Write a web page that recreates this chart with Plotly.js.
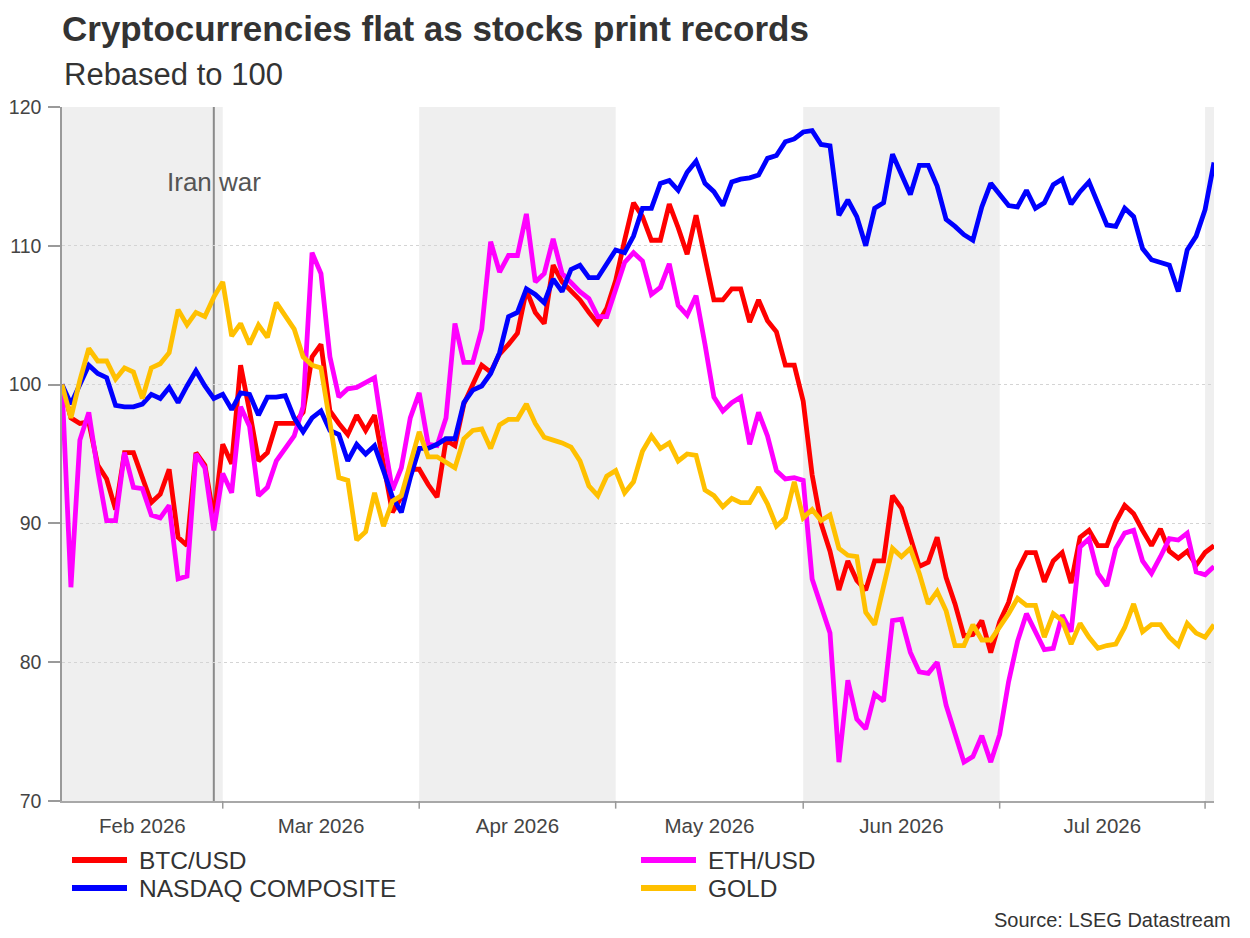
<!DOCTYPE html>
<html>
<head>
<meta charset="utf-8">
<script src="https://cdn.plot.ly/plotly-3.0.1.min.js"></script>
<style>
  html, body { margin: 0; padding: 0; background: #ffffff; }
  #chart { width: 1250px; height: 938px; }
</style>
</head>
<body>
<div id="chart"></div>
<script>
// ---------------- DATA (rebased to 100, business days from 4 Feb 2026) ----------------
const startDate = '2026-02-04';

const btcUsd = [
  100.0, 97.6, 97.2, 97.3, 94.2, 93.2, 91.0, 95.1, 95.1, 93.3,
  91.5, 92.1, 93.9, 89.0, 88.4, 95.1, 94.2, 90.4, 95.7, 94.3,
  101.4, 98.1, 94.5, 95.1, 97.2, 97.2, 97.2, 98.0, 102.0, 102.9,
  98.1, 97.2, 96.4, 97.8, 96.7, 97.8, 94.5, 90.8, 91.9, 93.9,
  93.9, 92.8, 91.9, 96.0, 95.6, 98.6, 100.0, 101.4, 100.9, 102.2,
  102.9, 103.7, 106.8, 105.2, 104.4, 108.6, 107.4, 106.8, 106.1, 105.2,
  104.4, 105.5, 107.5, 110.4, 113.1, 112.1, 110.4, 110.4, 113.0, 111.3,
  109.4, 112.2, 109.2, 106.1, 106.1, 106.9, 106.9, 104.5, 106.1, 104.6,
  103.8, 101.4, 101.4, 98.8, 93.5, 90.0, 88.0, 85.2, 87.3, 85.9,
  85.2, 87.3, 87.3, 92.0, 91.1, 89.1, 86.9, 87.2, 89.0, 86.1,
  84.2, 81.9, 82.0, 83.0, 80.7, 82.9, 84.3, 86.6, 87.9, 87.9,
  85.8, 87.3, 87.9, 85.7, 89.0, 89.5, 88.4, 88.4, 90.1, 91.3,
  90.7, 89.5, 88.4, 89.6, 88.0, 87.5, 88.0, 87.0, 87.9, 88.4
];

const ethUsd = [
  100.0, 85.4, 96.0, 98.0, 93.8, 90.2, 90.2, 95.1, 92.6, 92.5,
  90.6, 90.4, 91.3, 86.0, 86.2, 95.0, 94.0, 89.5, 93.6, 92.2,
  98.4, 97.0, 92.0, 92.6, 94.5, 95.4, 96.3, 98.4, 109.5, 108.0,
  102.0, 99.1, 99.7, 99.8, 100.2, 100.5, 96.2, 92.4, 94.0, 97.6,
  99.4, 95.7, 95.6, 97.6, 104.4, 101.6, 101.6, 104.0, 110.3, 108.1,
  109.3, 109.3, 112.3, 107.4, 108.0, 110.5, 108.0, 107.3, 106.7, 106.2,
  104.9, 104.9, 106.9, 108.8, 109.5, 108.9, 106.5, 107.0, 108.7, 105.7,
  105.0, 106.4, 102.9, 99.1, 98.1, 98.7, 99.1, 95.7, 98.0, 96.3,
  93.8, 93.2, 93.3, 93.1, 86.0, 84.0, 82.1, 72.8, 78.7, 75.9,
  75.2, 77.7, 77.2, 83.0, 83.1, 80.7, 79.3, 79.2, 80.0, 76.9,
  74.8, 72.8, 73.2, 74.7, 72.8, 74.8, 78.6, 81.5, 83.5, 82.2,
  80.9, 81.0, 83.4, 82.2, 88.3, 88.9, 86.4, 85.5, 88.2, 89.3,
  89.5, 87.3, 86.4, 87.6, 88.9, 88.8, 89.3, 86.5, 86.3, 86.9
];

const nasdaqComposite = [
  100.0, 98.6, 100.0, 101.4, 100.8, 100.5, 98.5, 98.4, 98.4, 98.6,
  99.3, 99.0, 99.8, 98.7, 99.9, 101.0, 99.9, 99.0, 99.3, 98.2,
  99.4, 99.3, 97.8, 99.1, 99.1, 99.2, 97.6, 96.6, 97.6, 98.1,
  96.7, 96.4, 94.5, 95.7, 95.0, 95.6, 93.8, 91.9, 90.8, 93.3,
  95.4, 95.4, 95.7, 96.1, 96.1, 98.7, 99.6, 99.9, 100.8, 102.3,
  104.9, 105.2, 106.9, 106.5, 105.9, 107.6, 106.7, 108.3, 108.6, 107.7,
  107.7, 108.7, 109.7, 109.5, 110.7, 112.7, 112.7, 114.5, 114.7, 114.0,
  115.3, 116.1, 114.5, 113.9, 112.9, 114.6, 114.8, 114.9, 115.1, 116.3,
  116.5, 117.5, 117.7, 118.2, 118.3, 117.3, 117.2, 112.2, 113.3, 112.1,
  110.0, 112.7, 113.1, 116.6, 115.2, 113.7, 115.8, 115.8, 114.3, 111.9,
  111.4, 110.8, 110.4, 112.8, 114.5, 113.7, 112.9, 112.8, 114.0, 112.7,
  113.1, 114.4, 114.8, 113.0, 113.9, 114.6, 113.1, 111.5, 111.4, 112.7,
  112.1, 109.8, 109.0, 108.8, 108.6, 106.7, 109.7, 110.7, 112.6, 116.0
];

const goldSeries = [
  100.0, 97.6, 100.3, 102.6, 101.7, 101.7, 100.4, 101.2, 100.9, 99.0,
  101.2, 101.5, 102.3, 105.4, 104.3, 105.2, 104.9, 106.3, 107.4, 103.5,
  104.4, 102.9, 104.3, 103.4, 105.9, 105.0, 104.0, 102.0, 101.4, 101.2,
  97.0, 93.3, 93.1, 88.8, 89.4, 92.2, 89.8, 91.6, 92.0, 94.3,
  96.6, 94.8, 94.8, 94.4, 94.0, 96.1, 96.7, 96.8, 95.4, 97.1,
  97.5, 97.5, 98.6, 97.2, 96.2, 96.0, 95.8, 95.5, 94.5, 92.7,
  92.0, 93.4, 93.8, 92.2, 93.0, 95.2, 96.3, 95.4, 95.8, 94.5,
  95.0, 94.9, 92.4, 92.0, 91.2, 91.8, 91.5, 91.5, 92.6, 91.4,
  89.8, 90.4, 93.0, 90.4, 91.0, 90.2, 90.6, 88.2, 87.7, 87.6,
  83.6, 82.7, 85.4, 88.2, 87.6, 88.2, 86.4, 84.2, 85.1, 83.7,
  81.2, 81.2, 82.7, 81.6, 81.6, 82.5, 83.5, 84.6, 84.1, 84.1,
  81.8, 83.5, 83.0, 81.3, 82.8, 81.8, 81.0, 81.2, 81.3, 82.5,
  84.2, 82.2, 82.7, 82.7, 81.8, 81.2, 82.8, 82.1, 81.8, 82.7
];

const seriesNames  = ['BTC/USD', 'ETH/USD', 'NASDAQ COMPOSITE', 'GOLD'];
const seriesValues = [btcUsd, ethUsd, nasdaqComposite, goldSeries];
const seriesColors = ['#ff0000', '#ff00ff', '#0000ff', '#ffc000'];

const monthNames  = ['Jan','Feb','Mar','Apr','May','Jun','Jul','Aug','Sep','Oct','Nov','Dec'];
const eventDates  = ['2026-02-27'];
const eventLabels = ['Iran war'];

const chartTitle    = 'Cryptocurrencies flat as stocks print records';
const chartSubtitle = 'Rebased to 100';
const sourceText    = 'Source: LSEG Datastream';

// ---------------- business-day calendar ----------------
function businessDays(start, n) {
  const p = start.split('-').map(Number);
  let d = new Date(Date.UTC(p[0], p[1] - 1, p[2]));
  const out = [];
  while (out.length < n) {
    const wd = d.getUTCDay();
    if (wd !== 0 && wd !== 6) out.push(new Date(d.getTime()));
    d = new Date(d.getTime() + 86400000);
  }
  return out;
}
const nPts = btcUsd.length;
const dates = businessDays(startDate, nPts);
const iso = dates.map(d => d.toISOString().slice(0, 10));
const xIdx = dates.map((d, i) => i);

// month segments
const segs = [];
dates.forEach((d, i) => {
  const key = d.getUTCFullYear() * 12 + d.getUTCMonth();
  if (!segs.length || segs[segs.length - 1].key !== key) {
    segs.push({ key: key, start: i, label: monthNames[d.getUTCMonth()] + ' ' + d.getUTCFullYear() });
  }
});
segs.forEach((s, k) => { s.end = (k + 1 < segs.length) ? segs[k + 1].start : nPts - 1; });
const labelSegs = segs.filter(s => s.end - s.start >= 5);

// ---------------- traces ----------------
const traces = seriesValues.map((vals, k) => ({
  type: 'scatter',
  mode: 'lines',
  name: seriesNames[k],
  x: xIdx,
  y: vals,
  text: iso,
  hovertemplate: '%{text}<br>' + seriesNames[k] + ': %{y:.1f}<extra></extra>',
  line: { color: seriesColors[k], width: 4.8 },
  showlegend: false
}));

// ---------------- shapes ----------------
const shapes = [];
// alternating month shading (Feb, Apr, Jun, Aug)
segs.forEach((s, k) => {
  if (k % 2 === 0) {
    shapes.push({ type: 'rect', xref: 'x', yref: 'paper', x0: s.start, x1: s.end, y0: 0, y1: 1,
      fillcolor: '#efefef', line: { width: 0 }, layer: 'below' });
  }
});
// month boundary tick marks
segs.slice(1).forEach(s => {
  shapes.push({ type: 'line', xref: 'x', yref: 'paper', x0: s.start, x1: s.start, y0: 0, y1: -0.011,
    line: { color: '#9a9a9a', width: 1.5 } });
});
// event line
const eventIdx = eventDates.map(ed => iso.indexOf(ed));
eventIdx.forEach(ix => {
  shapes.push({ type: 'line', xref: 'x', yref: 'paper', x0: ix, x1: ix, y0: 0, y1: 1,
    line: { color: '#8a8a8a', width: 2 }, layer: 'between' });
});

// manual legend (two columns)
const W = 1152, H = 694; // plot area in px
const px2x = px => (px - 62) / W;
const py2y = py => (801 - py) / H;
const legCols = [72, 641];
const legRows = [860, 888];
const annotations = [];
seriesNames.forEach((nm, k) => {
  const col = k % 2, row = Math.floor(k / 2);
  const lx = legCols[col], ly = legRows[row];
  shapes.push({ type: 'line', xref: 'paper', yref: 'paper',
    x0: px2x(lx), x1: px2x(lx + 55), y0: py2y(ly), y1: py2y(ly),
    line: { color: seriesColors[k], width: 6 } });
  annotations.push({ xref: 'paper', yref: 'paper', x: px2x(lx + 65), y: py2y(ly),
    xanchor: 'left', yanchor: 'middle', showarrow: false, text: nm,
    font: { size: 24.5, color: '#333333' } });
});

// event annotation
eventIdx.forEach((ix, k) => {
  annotations.push({ xref: 'x', yref: 'y', x: ix, y: 114.6, text: eventLabels[k],
    showarrow: false, xanchor: 'center', yanchor: 'middle',
    font: { size: 26, color: '#555555' } });
});

// subtitle + source
annotations.push({ xref: 'paper', yref: 'paper', x: 0, y: 1 + (107 - 74.5) / H,
  xanchor: 'left', yanchor: 'middle', showarrow: false, text: chartSubtitle,
  font: { size: 31, color: '#333333' } });
annotations.push({ xref: 'paper', yref: 'paper', x: px2x(1233), y: py2y(920),
  xanchor: 'right', yanchor: 'middle', showarrow: false, text: sourceText,
  font: { size: 20, color: '#333333' } });

// ---------------- layout ----------------
const layout = {
  width: 1250,
  height: 938,
  margin: { l: 62, r: 36, t: 107, b: 137, pad: 0 },
  paper_bgcolor: '#ffffff',
  plot_bgcolor: '#ffffff',
  font: { family: '"Liberation Sans", Arial, sans-serif', color: '#333333' },
  title: {
    text: '<b>' + chartTitle + '</b>',
    xref: 'paper', x: 0, xanchor: 'left',
    yref: 'container', y: 1 - 28.75 / 938, yanchor: 'middle',
    font: { size: 35, color: '#333333' }
  },
  showlegend: false,
  hovermode: 'closest',
  xaxis: {
    type: 'linear',
    range: [0, nPts - 1],
    tickmode: 'array',
    tickvals: labelSegs.map(s => (s.start + s.end) / 2),
    ticktext: labelSegs.map(s => s.label),
    ticks: '',
    showgrid: false,
    zeroline: false,
    showline: true,
    linecolor: '#a8a8a8',
    linewidth: 1.5,
    tickfont: { size: 20.5, color: '#444444' },
    ticklabelstandoff: 6,
    fixedrange: true
  },
  yaxis: {
    range: [70, 120],
    tickmode: 'linear',
    tick0: 70,
    dtick: 10,
    ticks: 'outside',
    ticklen: 12,
    tickwidth: 1.5,
    tickcolor: '#9a9a9a',
    showline: true,
    linecolor: '#9a9a9a',
    linewidth: 1.5,
    showgrid: true,
    gridcolor: '#d4d4d4',
    griddash: 'dot',
    gridwidth: 1,
    zeroline: false,
    tickfont: { size: 19.5, color: '#444444' },
    ticklabelstandoff: 3,
    fixedrange: true
  },
  shapes: shapes,
  annotations: annotations
};

Plotly.newPlot('chart', traces, layout, { displayModeBar: false, responsive: false });
</script>
</body>
</html>
